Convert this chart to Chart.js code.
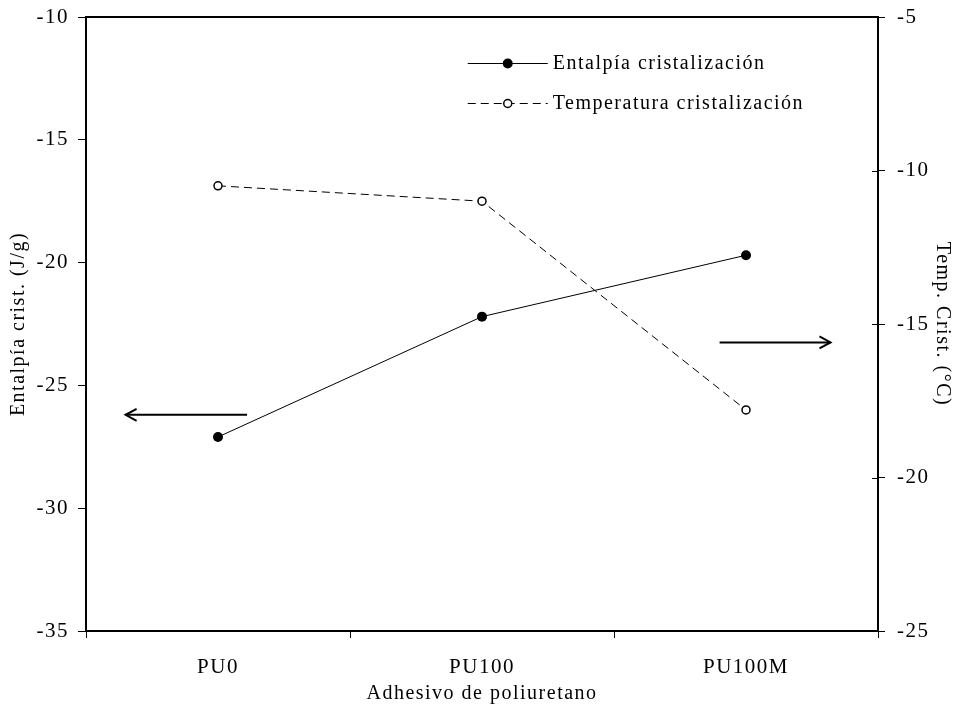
<!DOCTYPE html>
<html>
<head>
<meta charset="utf-8">
<script src="https://cdn.jsdelivr.net/npm/chart.js@4.4.0/dist/chart.umd.min.js"></script>
<style>
  html, body { margin: 0; padding: 0; background: #fff; }
  #wrap { width: 957px; height: 709px; }
</style>
</head>
<body>
<div id="wrap"><canvas id="myChart"></canvas></div>
<script>
const categories = ["PU0", "PU100", "PU100M"];
const entalpia = [-27.1, -22.2, -19.7];
const temperatura = [-10.5, -11.0, -17.8];
const leftTicks = [-35, -30, -25, -20, -15, -10];
const rightTicks = [-25, -20, -15, -10, -5];
const seriesNames = ["Entalpía cristalización", "Temperatura cristalización"];

const FONT = "'Liberation Serif', 'Times New Roman', serif";
const SPACING = "1.5px";
const DASH = [8, 5];

// arrows pointing to the axis each series belongs to (category index, axis value)
const arrows = [
  { axis: "y", from: [0.11, -26.2], to: [-0.35, -26.2] },
  { axis: "y1", from: [1.9, -15.6], to: [2.32, -15.6] }
];

const extras = {
  id: "extras",
  beforeLayout(chart) { chart.ctx.letterSpacing = SPACING; },
  beforeDraw(chart) { chart.ctx.letterSpacing = SPACING; },
  afterDraw(chart) {
    const ctx = chart.ctx;
    const a = chart.chartArea;
    const x = chart.scales.x;
    ctx.save();
    ctx.strokeStyle = "#000";
    ctx.fillStyle = "#000";

    // top frame line
    ctx.lineWidth = 2;
    ctx.beginPath();
    ctx.moveTo(a.left - 1, a.top);
    ctx.lineTo(a.right + 1, a.top);
    ctx.stroke();

    // inner part of right axis ticks
    ctx.lineWidth = 1;
    const r = chart.scales.y1;
    rightTicks.forEach(v => {
      const py = Math.round(r.getPixelForValue(v)) + 0.5;
      ctx.beginPath();
      ctx.moveTo(a.right - 6, py);
      ctx.lineTo(a.right, py);
      ctx.stroke();
    });

    // arrows
    ctx.lineWidth = 2;
    arrows.forEach(ar => {
      const s = chart.scales[ar.axis];
      const x0 = x.getPixelForValue(ar.from[0]);
      const y0 = s.getPixelForValue(ar.from[1]);
      const x1 = x.getPixelForValue(ar.to[0]);
      const y1 = s.getPixelForValue(ar.to[1]);
      const dir = Math.sign(x1 - x0);
      ctx.beginPath();
      ctx.moveTo(x0, y0);
      ctx.lineTo(x1, y1);
      ctx.stroke();
      ctx.beginPath();
      ctx.moveTo(x1 - dir * 11, y1 - 6);
      ctx.lineTo(x1, y1);
      ctx.lineTo(x1 - dir * 11, y1 + 6);
      ctx.stroke();
    });

    // legend
    const lx0 = a.left + (a.right - a.left) * 0.482;
    const lx1 = lx0 + 80;
    const rows = [a.top + 46, a.top + 86];
    ctx.font = "20px " + FONT;
    ctx.textBaseline = "middle";
    ctx.textAlign = "left";
    rows.forEach((ly, i) => {
      const mx = (lx0 + lx1) / 2;
      ctx.lineWidth = 1;
      ctx.setLineDash(i === 0 ? [] : DASH);
      ctx.beginPath();
      ctx.moveTo(lx0, ly + 0.5);
      ctx.lineTo(lx1, ly + 0.5);
      ctx.stroke();
      ctx.setLineDash([]);
      ctx.beginPath();
      if (i === 0) {
        ctx.arc(mx, ly + 0.5, 5, 0, Math.PI * 2);
        ctx.fill();
      } else {
        ctx.fillStyle = "#fff";
        ctx.arc(mx, ly + 0.5, 4, 0, Math.PI * 2);
        ctx.fill();
        ctx.lineWidth = 1.5;
        ctx.stroke();
        ctx.fillStyle = "#000";
      }
      ctx.fillText(seriesNames[i], lx1 + 5, ly + 1);
    });
    ctx.restore();
  }
};

const data = {
  labels: categories,
  datasets: [
    {
      label: seriesNames[0],
      data: entalpia,
      yAxisID: "y",
      borderColor: "#000",
      backgroundColor: "#000",
      borderWidth: 1,
      pointRadius: 5,
      pointBackgroundColor: "#000",
      pointBorderWidth: 0,
      tension: 0
    },
    {
      label: seriesNames[1],
      data: temperatura,
      yAxisID: "y1",
      borderColor: "#000",
      backgroundColor: "#fff",
      borderWidth: 1,
      borderDash: DASH,
      pointRadius: 4,
      pointBackgroundColor: "#fff",
      pointBorderColor: "#000",
      pointBorderWidth: 1.5,
      tension: 0
    }
  ]
};

const tickFont = { family: FONT, size: 21 };
const titleFont = { family: FONT, size: 20 };

function noPad(s) { s.paddingTop = 0; s.paddingBottom = 0; }

const config = {
  type: "line",
  data: data,
  options: {
    responsive: true,
    maintainAspectRatio: false,
    animation: false,
    layout: { padding: { top: 17, left: 0, right: 0, bottom: 0 } },
    plugins: { legend: { display: false }, tooltip: { enabled: false } },
    scales: {
      x: {
        offset: true,
        grid: { offset: true, drawOnChartArea: false, tickLength: 7, color: "#000", lineWidth: 1 },
        border: { color: "#000", width: 2 },
        ticks: { color: "#000", font: tickFont, padding: 17 },
        title: { display: true, text: "Adhesivo de poliuretano", color: "#000", font: titleFont, padding: { top: 0, bottom: 3 } },
        afterFit(s) { s.height = 78; s.paddingLeft = 0; s.paddingRight = 0; }
      },
      y: {
        position: "left",
        min: -35,
        max: -10,
        afterBuildTicks(s) { s.ticks = leftTicks.map(v => ({ value: v })); },
        grid: { drawOnChartArea: false, tickLength: 8, color: "#000", lineWidth: 1 },
        border: { color: "#000", width: 2 },
        ticks: { color: "#000", font: tickFont, padding: 9 },
        title: { display: true, text: "Entalpía crist. (J/g)", color: "#000", font: titleFont, padding: { top: 7, bottom: 0 } },
        afterFit(s) { s.width = 86; noPad(s); }
      },
      y1: {
        position: "right",
        min: -25,
        max: -5,
        afterBuildTicks(s) { s.ticks = rightTicks.map(v => ({ value: v })); },
        grid: { drawOnChartArea: false, tickLength: 7, color: "#000", lineWidth: 1 },
        border: { color: "#000", width: 2 },
        ticks: { color: "#000", font: tickFont, padding: 12 },
        title: { display: true, text: "Temp. Crist. (°C)", color: "#000", font: titleFont, padding: { top: 3, bottom: 0 } },
        afterFit(s) { s.width = 79; noPad(s); }
      }
    }
  },
  plugins: [extras]
};

const myChart = new Chart(document.getElementById("myChart"), config);
</script>
</body>
</html>
